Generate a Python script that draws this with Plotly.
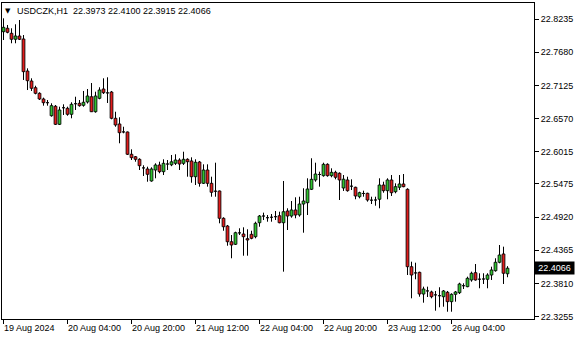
import plotly.graph_objects as go
import pandas as pd

symbol = "USDCZK,H1"

opens = [22.8023, 22.8080, 22.7996, 22.7896, 22.7951, 22.7901, 22.7365, 22.7198, 22.7086, 22.6992,
         22.6897, 22.6842, 22.6617, 22.6775, 22.6473, 22.6758, 22.6741, 22.6641, 22.6818, 22.6825,
         22.6791, 22.6847, 22.6935, 22.6684, 22.6908, 22.7064, 22.7006, 22.7014, 22.6574, 22.6479,
         22.6350, 22.6345, 22.5972, 22.5931, 22.5888, 22.5751, 22.5726, 22.5525, 22.5709, 22.5793,
         22.5681, 22.5809, 22.5796, 22.5821, 22.5876, 22.5821, 22.5888, 22.5860, 22.5597, 22.5843,
         22.5486, 22.5709, 22.5486, 22.5358, 22.5358, 22.4901, 22.4772, 22.4509, 22.4466, 22.4663,
         22.4638, 22.4560, 22.4633, 22.4593, 22.4827, 22.4939, 22.4911, 22.4918, 22.4928, 22.4944,
         22.4827, 22.5023, 22.4939, 22.5040, 22.4956, 22.5140, 22.5162, 22.5386, 22.5542, 22.5637,
         22.5614, 22.5804, 22.5614, 22.5670, 22.5654, 22.5408, 22.5542, 22.5441, 22.5420, 22.5262,
         22.5319, 22.5319, 22.5207, 22.5207, 22.5219, 22.5458, 22.5363, 22.5542, 22.5346, 22.5420,
         22.5475, 22.5386, 22.4091, 22.3991, 22.3997, 22.3634, 22.3690, 22.3668, 22.3623, 22.3606,
         22.3589, 22.3663, 22.3506, 22.3629, 22.3656, 22.3773, 22.3757, 22.3869, 22.3991, 22.3885,
         22.3885, 22.3880, 22.3952, 22.4024, 22.4165, 22.4304, 22.3973]
highs = [22.8247, 22.8135, 22.8080, 22.8147, 22.8218, 22.7967, 22.7410, 22.7243, 22.7119, 22.7009,
         22.6919, 22.6880, 22.6825, 22.6796, 22.6768, 22.6808, 22.6768, 22.6842, 22.6935, 22.6880,
         22.7031, 22.7064, 22.7164, 22.7019, 22.7093, 22.7243, 22.7260, 22.7031, 22.6684, 22.6591,
         22.6433, 22.6353, 22.6055, 22.5943, 22.5905, 22.5788, 22.5764, 22.5754, 22.5821, 22.5848,
         22.5888, 22.5876, 22.5960, 22.5972, 22.5905, 22.6015, 22.5905, 22.5921, 22.5888, 22.5860,
         22.5804, 22.5804, 22.5597, 22.5831, 22.5366, 22.4918, 22.4789, 22.4621, 22.4677, 22.4734,
         22.4750, 22.4717, 22.4693, 22.4844, 22.4956, 22.4995, 22.4956, 22.4973, 22.5023, 22.5011,
         22.5525, 22.5068, 22.5190, 22.5252, 22.5262, 22.5403, 22.5570, 22.5905, 22.5831, 22.5681,
         22.5831, 22.5821, 22.5737, 22.5697, 22.5670, 22.5625, 22.5597, 22.5553, 22.5430, 22.5346,
         22.5363, 22.5329, 22.5262, 22.5262, 22.5570, 22.5513, 22.5570, 22.5625, 22.5486, 22.5625,
         22.5642, 22.5403, 22.4175, 22.4158, 22.4008, 22.3757, 22.3757, 22.3690, 22.3685, 22.3747,
         22.3701, 22.3685, 22.3646, 22.3685, 22.3823, 22.3813, 22.3924, 22.4008, 22.4136, 22.3981,
         22.3981, 22.3981, 22.4091, 22.4232, 22.4454, 22.4426, 22.4100]
lows = [22.7884, 22.7996, 22.7829, 22.7829, 22.7884, 22.7215, 22.7047, 22.7031, 22.6975, 22.6880,
        22.6785, 22.6785, 22.6601, 22.6462, 22.6462, 22.6629, 22.6617, 22.6574, 22.6713, 22.6768,
        22.6768, 22.6821, 22.6679, 22.6668, 22.6892, 22.6980, 22.6830, 22.6557, 22.6433, 22.6156,
        22.6323, 22.5960, 22.5876, 22.5848, 22.5709, 22.5609, 22.5513, 22.5513, 22.5570, 22.5654,
        22.5625, 22.5709, 22.5773, 22.5793, 22.5709, 22.5793, 22.5597, 22.5496, 22.5458, 22.5430,
        22.5475, 22.5430, 22.5262, 22.5262, 22.4817, 22.4693, 22.4442, 22.4232, 22.4454, 22.4621,
        22.4275, 22.4275, 22.4550, 22.4566, 22.4760, 22.4872, 22.4844, 22.4844, 22.4872, 22.4817,
        22.4008, 22.4705, 22.4911, 22.4901, 22.4928, 22.4660, 22.4956, 22.5374, 22.5513, 22.5430,
        22.5597, 22.5597, 22.5587, 22.5553, 22.5207, 22.5358, 22.5346, 22.5374, 22.5219, 22.5235,
        22.5262, 22.5179, 22.5140, 22.5112, 22.5068, 22.5329, 22.5219, 22.5274, 22.5319, 22.5374,
        22.5420, 22.3952, 22.3562, 22.3880, 22.3589, 22.3489, 22.3584, 22.3562, 22.3355, 22.3412,
        22.3422, 22.3338, 22.3338, 22.3506, 22.3634, 22.3718, 22.3747, 22.3840, 22.3857, 22.3730,
        22.3802, 22.3730, 22.3869, 22.4008, 22.4148, 22.3802, 22.3915]
closes = [22.8096, 22.8013, 22.7896, 22.7951, 22.7896, 22.7354, 22.7203, 22.7076, 22.6992, 22.6897,
          22.6835, 22.6835, 22.6785, 22.6473, 22.6713, 22.6751, 22.6641, 22.6808, 22.6825, 22.6785,
          22.6842, 22.6947, 22.6684, 22.6947, 22.7047, 22.7002, 22.6999, 22.6574, 22.6462, 22.6333,
          22.6346, 22.5972, 22.5915, 22.5888, 22.5781, 22.5744, 22.5637, 22.5726, 22.5793, 22.5681,
          22.5821, 22.5816, 22.5846, 22.5876, 22.5809, 22.5888, 22.5848, 22.5597, 22.5838, 22.5486,
          22.5709, 22.5486, 22.5336, 22.5354, 22.4901, 22.4760, 22.4509, 22.4454, 22.4660, 22.4657,
          22.4593, 22.4538, 22.4566, 22.4817, 22.4939, 22.4943, 22.4914, 22.4921, 22.4931, 22.4827,
          22.5011, 22.4939, 22.5040, 22.4956, 22.5140, 22.5190, 22.5391, 22.5553, 22.5642, 22.5634,
          22.5804, 22.5614, 22.5670, 22.5587, 22.5542, 22.5555, 22.5363, 22.5438, 22.5274, 22.5329,
          22.5316, 22.5207, 22.5204, 22.5210, 22.5458, 22.5363, 22.5542, 22.5329, 22.5430, 22.5475,
          22.5430, 22.4091, 22.3952, 22.3987, 22.3634, 22.3718, 22.3686, 22.3589, 22.3620, 22.3609,
          22.3685, 22.3506, 22.3629, 22.3668, 22.3802, 22.3777, 22.3897, 22.3981, 22.3869, 22.3882,
          22.3889, 22.3952, 22.4036, 22.4165, 22.4287, 22.3981, 22.4066]

# hourly bars, weekend skipped
times = [t for t in pd.date_range("2024-08-19 12:00", "2024-08-26 18:00", freq="h") if t.weekday() < 5]

tick_times = ["2024-08-19 12:00", "2024-08-20 04:00", "2024-08-20 20:00", "2024-08-21 12:00",
              "2024-08-22 04:00", "2024-08-22 20:00", "2024-08-23 12:00", "2024-08-26 04:00"]
tick_labels = ["19 Aug 2024", "20 Aug 04:00", "20 Aug 20:00", "21 Aug 12:00",
               "22 Aug 04:00", "22 Aug 20:00", "23 Aug 12:00", "26 Aug 04:00"]
price_ticks = [22.8235, 22.7680, 22.7125, 22.6570, 22.6015, 22.5475, 22.4920, 22.4365, 22.3810, 22.3255]

x = list(range(len(times)))
pos = {t: i for i, t in enumerate(times)}
tick_idx = [pos[pd.Timestamp(t)] for t in tick_times]

FONT = "Liberation Sans, Arial, sans-serif"
BULL = "#2EC42E"
BEAR = "#E31B1B"
HW = 0.35  # half body width in bar units

fig = go.Figure()

# wicks (low -> high), drawn first so bodies sit on top
wx, wy = [], []
for i in x:
    wx += [i, i, None]
    wy += [lows[i], highs[i], None]
fig.add_trace(go.Scatter(x=wx, y=wy, mode="lines", line=dict(color="black", width=1),
                         hoverinfo="skip", showlegend=False))

# bodies
for up, color in ((True, BULL), (False, BEAR)):
    bx, by = [], []
    for i in x:
        o, c = opens[i], closes[i]
        if (c >= o) != up:
            continue
        lo, hi = min(o, c), max(o, c)
        bx += [i - HW, i + HW, i + HW, i - HW, i - HW, None]
        by += [lo, lo, hi, hi, lo, None]
    fig.add_trace(go.Scatter(x=bx, y=by, mode="lines", fill="toself", fillcolor=color,
                             line=dict(color="black", width=0.85), hoverinfo="skip", showlegend=False))

fig.update_layout(
    width=580, height=340,
    margin=dict(l=2, r=46, t=3, b=21),
    paper_bgcolor="white", plot_bgcolor="white",
    showlegend=False,
    font=dict(family=FONT, size=9, color="black"),
)
fig.update_xaxes(
    range=[-0.375, 132.625],
    tickvals=tick_idx, showticklabels=False,
    ticks="outside", ticklen=4, tickcolor="black", tickwidth=1,
    showline=True, linecolor="black", linewidth=1, mirror=True,
    showgrid=False, zeroline=False,
)
fig.update_yaxes(
    range=[22.3216, 22.8503], side="right",
    tickvals=price_ticks, ticktext=[f"{v:.4f}" for v in price_ticks],
    ticks="outside", ticklen=4, tickcolor="black", tickwidth=1,
    showline=True, linecolor="black", linewidth=1, mirror=True,
    showgrid=False, zeroline=False,
    tickfont=dict(family=FONT, size=9, color="black"),
)

annotations = []
for idx, lab in zip(tick_idx, tick_labels):
    annotations.append(dict(
        x=idx, xref="x", y=0, yref="paper", text=lab, showarrow=False,
        xanchor="left", yanchor="middle", xshift=-2, yshift=-8.5,
        font=dict(family=FONT, size=9, color="black"),
    ))

# header
annotations.append(dict(
    x=0, xref="paper", y=1, yref="paper", text="▼", showarrow=False,
    xanchor="left", yanchor="middle", xshift=1, yshift=-7.5,
    font=dict(family="DejaVu Sans", size=7, color="black"),
))
header = f"{symbol}&nbsp; {opens[-1]:.4f} {highs[-1]:.4f} {lows[-1]:.4f} {closes[-1]:.4f}"
annotations.append(dict(
    x=0, xref="paper", y=1, yref="paper", text=header, showarrow=False,
    xanchor="left", yanchor="middle", xshift=13, yshift=-7.5,
    font=dict(family=FONT, size=9, color="black"),
))

# current price box
annotations.append(dict(
    x=1, xref="paper", y=closes[-1], yref="y", text=f"{closes[-1]:.4f}", showarrow=False,
    xanchor="left", yanchor="middle", xshift=0, bgcolor="black", borderpad=1,
    width=37, height=10, align="center",
    font=dict(family=FONT, size=9, color="white"),
))

fig.update_layout(annotations=annotations)

fig.write_html("out.html")
